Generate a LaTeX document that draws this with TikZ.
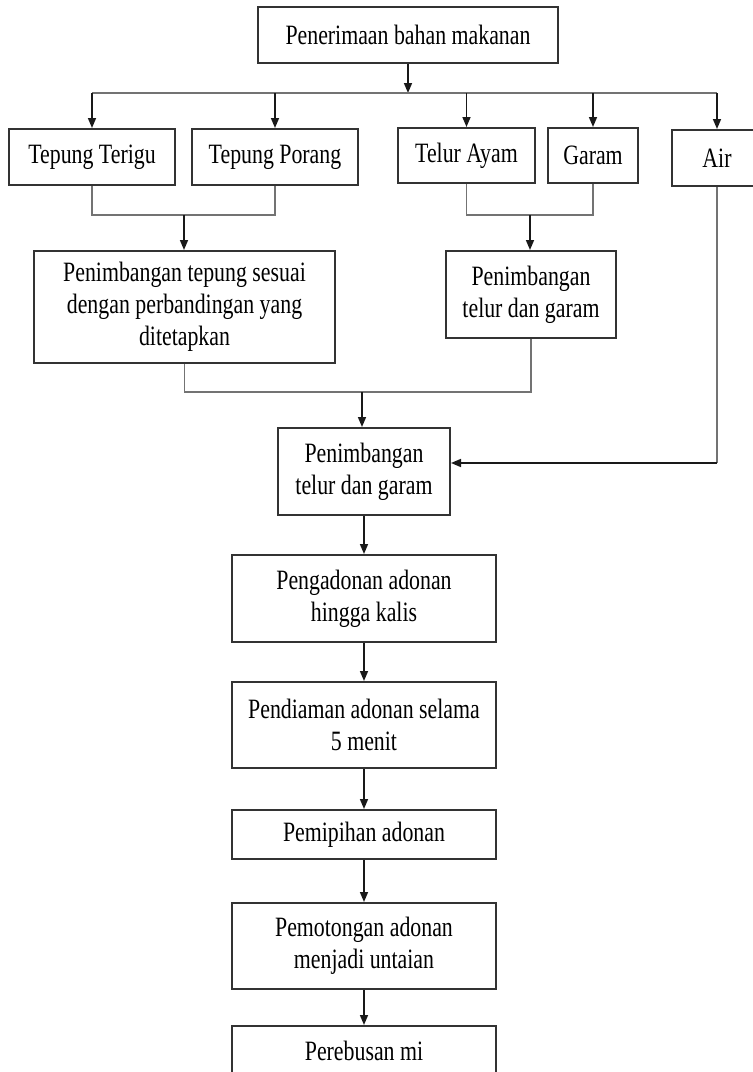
\documentclass[tikz,border=0pt]{standalone}
\usepackage{fontspec}
\setmainfont{Liberation Serif}[FakeStretch=0.78]
\usetikzlibrary{arrows.meta}

\tikzset{every picture/.style={line width=1pt}}

\begin{document}
\begin{tikzpicture}[x=1pt,y=1pt,yscale=-1,
  box/.style={draw=black!80,line width=2pt,align=center,inner sep=0pt,font=\fontsize{28}{32}\selectfont},
  joinline/.style={draw=black!55,line width=1.5pt},
  arr/.style={draw=black!90,line width=1.6pt,-{Triangle[length=10pt,width=8pt]}}]
\useasboundingbox (0,0) rectangle (753,1072);

%Boxes, top row
\node[box,minimum width=300,minimum height=56] (terima) at (408,35) {Penerimaan bahan makanan};
\node[box,minimum width=166,minimum height=56] (terigu) at (92,157) {Tepung Terigu};
\node[box,minimum width=166,minimum height=56] (porang) at (275,157) {Tepung Porang};
\node[box,minimum width=137,minimum height=55] (telur) at (466.5,155.5) {Telur Ayam};
\node[box,minimum width=90,minimum height=55] (garam) at (593,155.5) {Garam};
\node[box,minimum width=90,minimum height=56] (air) at (717,158) {Air};

%Boxes, weighing
\node[box,minimum width=301,minimum height=112] (timbangtepung) at (184.5,307) {Penimbangan tepung sesuai\\dengan perbandingan yang\\ditetapkan};
\node[box,minimum width=170,minimum height=87] (timbangtelur) at (531,294.5) {Penimbangan\\telur dan garam};
\node[box,minimum width=172,minimum height=87] (timbang) at (364,471.5) {Penimbangan\\telur dan garam};

%Boxes, process chain
\node[box,minimum width=264,minimum height=87] (adon) at (364,598.5) {Pengadonan adonan\\hingga kalis};
\node[box,minimum width=264,minimum height=86] (diam) at (364,725) {Pendiaman adonan selama\\5 menit};
\node[box,minimum width=264,minimum height=49] (pipih) at (364,834.5) {Pemipihan adonan};
\node[box,minimum width=264,minimum height=86] (potong) at (364,946) {Pemotongan adonan\\menjadi untaian};
\node[box,minimum width=264,minimum height=49] (rebus) at (364,1050.5) {Perebusan mi};

%Branching from the top box
\coordinate (bus) at (408,93);
\draw[arr] (terima.south) -- (bus);
\draw[joinline] (terigu.north |- bus) -- (air.north |- bus);
\foreach \n in {terigu,porang,telur,garam,air}
  \draw[arr] (\n.north |- bus) -- (\n.north);

%Joining lines
\coordinate (gabung1) at (184,215);
\draw[joinline] (terigu.south) |- (gabung1) -| (porang.south);
\draw[arr] (gabung1) -- (gabung1 |- timbangtepung.north);
\coordinate (gabung2) at (530,215);
\draw[joinline] (telur.south) |- (gabung2) -| (garam.south);
\draw[arr] (gabung2) -- (gabung2 |- timbangtelur.north);
\coordinate (gabung3) at (362,392);
\draw[joinline] (timbangtepung.south) |- (gabung3) -| (timbangtelur.south);
\draw[arr] (gabung3) -- (gabung3 |- timbang.north);

%Water line
\coordinate (airbend) at (717,463);
\draw[joinline] (air.south) -- (airbend);
\draw[arr] (airbend) -- (timbang.east |- airbend);

%Process chain
\draw[arr] (timbang) -- (adon);
\draw[arr] (adon) -- (diam);
\draw[arr] (diam) -- (pipih);
\draw[arr] (pipih) -- (potong);
\draw[arr] (potong) -- (rebus);

\end{tikzpicture}
\end{document}
